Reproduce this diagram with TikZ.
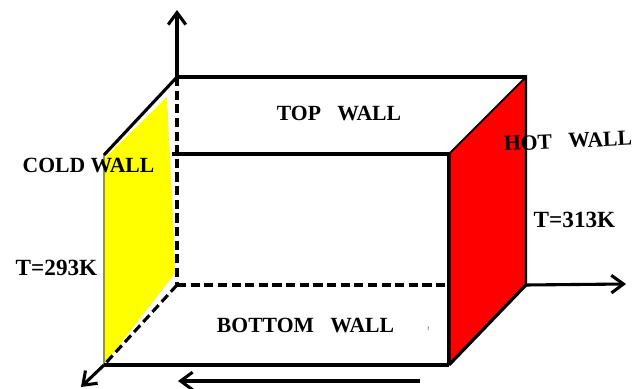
\documentclass[tikz,border=0pt]{standalone}
\usepackage{fontspec}
\setmainfont{Liberation Serif}
\usetikzlibrary{arrows.meta}
\definecolor{coldwall}{HTML}{FFFF00}
\definecolor{hotwall}{HTML}{FF0000}
\definecolor{edgegray}{HTML}{8A8A8A}
\tikzset{
  walllabel/.style={font=\bfseries\fontsize{15.4}{17}\selectfont,text=black,inner sep=0pt},
  templabel/.style={font=\bfseries\fontsize{16.5}{18}\selectfont,text=black,inner sep=0pt},
  edge/.style={draw=black,line width=2.2pt},
  edgethin/.style={draw=black,line width=1.5pt},
  edgedash/.style={draw=black,line width=2.2pt,dash pattern=on 6.5pt off 3.2pt},
  axisarr/.style={-{Straight Barb[length=3mm,width=4.4mm,line width=2.2pt]},draw=black,line width=2.2pt}
}
\begin{document}
\begin{tikzpicture}[x=0.25mm,y=-0.25mm]
\path[use as bounding box,fill=white] (0,0) rectangle (644,389);
\coordinate (backtl) at (177,77); \coordinate (backtr) at (526,77); \coordinate (backbl) at (177,285); \coordinate (backbr) at (526,285);
\coordinate (fronttl) at (104,155); \coordinate (fronttr) at (449,154); \coordinate (frontbl) at (104,365); \coordinate (frontbr) at (449,365);
\coordinate (topstart) at (172,154); \coordinate (zaxis) at (177,10); \coordinate (xaxis) at (626,284); \coordinate (yaxis) at (81,387);
\coordinate (flowstart) at (420,381); \coordinate (flowend) at (178,381);
\fill[coldwall] (167,97)--(172,195)--(175.5,273)--(frontbl)--(103,160)--cycle;
\fill[hotwall] (fronttr)--(backtr)--(backbr)--(frontbr)--cycle;
\draw[edgegray,line width=0.8pt] (fronttl)--(frontbl);
\draw[edge] (backtl)--(backtr); \draw[edge] (topstart)--(fronttr); \draw[edge] (frontbl)--(frontbr); \draw[edge] (fronttr)--(frontbr);
\draw[edge] (fronttl)--(backtl); \draw[edge] (frontbr)--(backbr);
\draw[edgethin] (fronttr)--(backtr)--(backbr);
\draw[edgedash] (backtl)--(backbl); \draw[edgedash] (backbl)--(fronttr|-backbl); \draw[edgedash] (backbl)--(frontbl);
\draw[axisarr] (backtl)--(zaxis); \draw[axisarr] (backbr)--(xaxis); \draw[axisarr] (frontbl)--(yaxis); \draw[axisarr] (flowstart)--(flowend);
\draw[edgegray,line width=0.6pt] (428.5,326.5)--(428,330);
\node[walllabel] (topwall) at (339,113) {TOP\ \ \ WALL};
\node[walllabel] (bottomwall) at (305.5,325) {BOTTOM\ \ \ WALL};
\node[walllabel] (coldlabel) at (88.5,165) {COLD WALL};
\node[templabel] (coldtemp) at (56.5,268) {T=293K};
\node[walllabel,rotate=2.5] (hotlabel) at (568,141) {HOT\ \ \ WALL};
\node[templabel] (hottemp) at (574.5,220) {T=313K};
\end{tikzpicture}
\end{document}
